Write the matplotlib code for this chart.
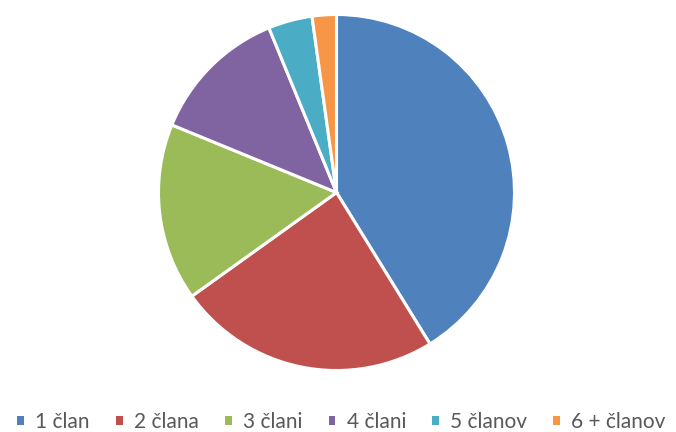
import matplotlib
matplotlib.use('Agg')
import matplotlib.pyplot as plt
from matplotlib.patches import Patch

# velikost gospodinjstev (delež v %)
labels = ['1 član', '2 člana', '3 člani', '4 člani', '5 članov', '6 + članov']
values = [41.2, 23.9, 16.1, 12.6, 4.0, 2.2]
colors = ['#4F81BD', '#C0504D', '#9BBB59', '#8064A2', '#4BACC6', '#F79646']

plt.rcParams['font.family'] = ['Lato', 'DejaVu Sans']

fig = plt.figure(figsize=(6.76, 4.32), dpi=100)
W, H = 676, 432
cx, cy, r = 336.5, 192.5, 178
ax = fig.add_axes([(cx - r) / W, (H - cy - r) / H, 2 * r / W, 2 * r / H])
ax.pie(values, colors=colors, startangle=90, counterclock=False,
       wedgeprops=dict(edgecolor='white', linewidth=2.2), radius=1)
ax.set_xlim(-1.0, 1.0)
ax.set_ylim(-1.0, 1.0)
ax.set_aspect('equal')
ax.axis('off')

handles = [Patch(facecolor=c, edgecolor='none') for c in colors]
fig.legend(handles, labels, loc='center', bbox_to_anchor=(341.5 / W, 1 - 422 / H),
           ncol=6, frameon=False, fontsize=15, handlelength=0.32, handleheight=0.32,
           handletextpad=0.55, columnspacing=1.25, labelcolor='#595959',
           borderpad=0, borderaxespad=0)

fig.savefig('out.png', dpi=100)
